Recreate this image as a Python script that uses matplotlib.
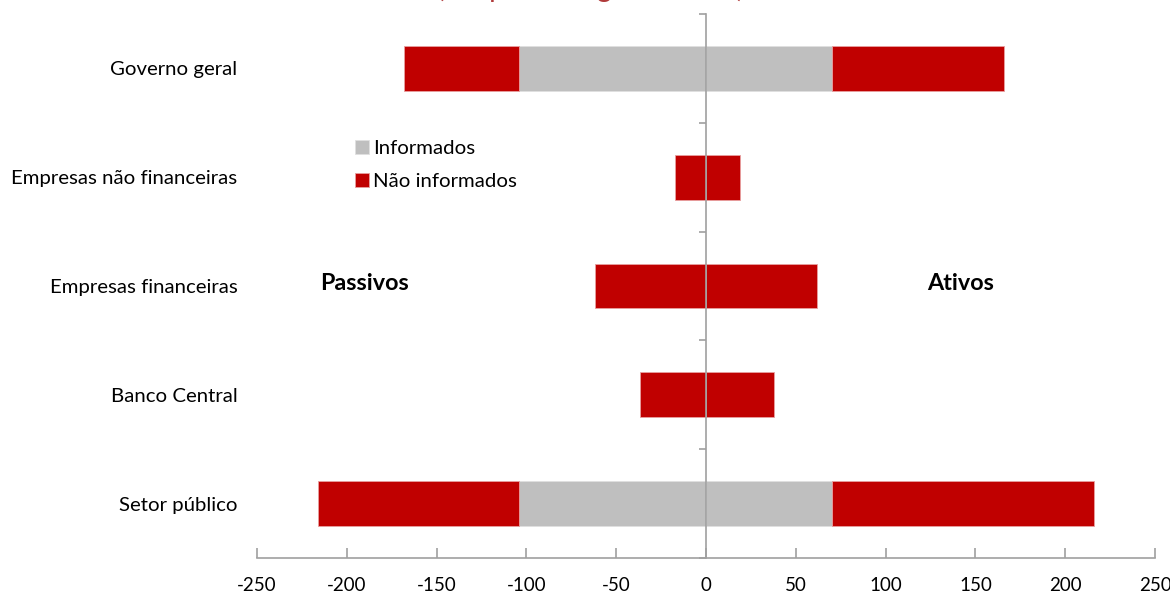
import numpy as np
import matplotlib.pyplot as plt

# data (% of GDP)
categorias = ['Governo geral', 'Empresas não financeiras', 'Empresas financeiras',
              'Banco Central', 'Setor público']
passivos_informados = [-104, 0, 0, 0, -104]
passivos_nao_informados = [-64, -17, -62, -37, -112]
ativos_informados = [70, 0, 0, 0, 70]
ativos_nao_informados = [96, 19, 62, 38, 146]
xticks = [-250, -200, -150, -100, -50, 0, 50, 100, 150, 200, 250]

RED = '#C00000'
GRAY = '#BFBFBF'
AXIS = '#A0A0A0'
FS = 14.7

plt.rcParams['font.family'] = ['Lato', 'DejaVu Sans']

fig = plt.figure(figsize=(11.7, 5.96), dpi=100)
ax = fig.add_axes([257 / 1170, 1 - 558 / 596, 898 / 1170, 544 / 596])

y = np.arange(len(categorias))
h = 0.41
ax.barh(y, passivos_informados, height=h, color=GRAY, edgecolor='#E0E0E0', linewidth=0.6,
        label='Informados')
ax.barh(y, passivos_nao_informados, left=passivos_informados, height=h, color=RED,
        edgecolor='#E8A0A0', linewidth=0.6, label='Não informados')
ax.barh(y, ativos_informados, height=h, color=GRAY, edgecolor='#E0E0E0', linewidth=0.6)
ax.barh(y, ativos_nao_informados, left=ativos_informados, height=h, color=RED,
        edgecolor='#E8A0A0', linewidth=0.6)

ax.set_xlim(-250, 250)
ax.set_ylim(len(categorias) - 0.5, -0.5)
ax.set_xticks(xticks)
ax.set_xticklabels([str(v) for v in xticks], fontsize=13.5)
ax.set_yticks(y)
ax.set_yticklabels(categorias, fontsize=FS)
ax.tick_params(axis='y', length=0, pad=14)
ax.tick_params(axis='x', direction='in', length=7, color=AXIS, width=1.2, pad=14)
for s in ['top', 'right', 'left']:
    ax.spines[s].set_visible(False)
ax.spines['bottom'].set_color(AXIS)
ax.spines['bottom'].set_linewidth(1.2)

# vertical axis at zero with ticks between categories
sec = ax.secondary_yaxis(0.5)
sec.set_yticks(np.arange(-0.5, len(categorias), 1.0))
sec.set_yticklabels([])
sec.tick_params(direction='in', length=5, color=AXIS, width=1.2)
for sp in sec.spines.values():
    sp.set_color(AXIS)
    sp.set_linewidth(1.2)
sec.set_zorder(5)

ax.text(-215, 1.98, 'Passivos', fontsize=16.8, fontweight='bold', ha='left', va='center')
ax.text(123, 1.98, 'Ativos', fontsize=16.8, fontweight='bold', ha='left', va='center')

ax.legend(loc='upper left', bbox_to_anchor=(355 / 1170, 1 - 140 / 596),
          bbox_transform=fig.transFigure, frameon=False, fontsize=FS,
          handlelength=0.7, handleheight=0.7, handletextpad=0.2,
          labelspacing=0.75, borderpad=0, borderaxespad=0)

fig.text(591 / 1170, 1 + 3 / 596, '(em percentagem do PIB)', ha='center', va='baseline',
         fontsize=20, color='#B03A3A')

fig.savefig('out.png', dpi=100)
